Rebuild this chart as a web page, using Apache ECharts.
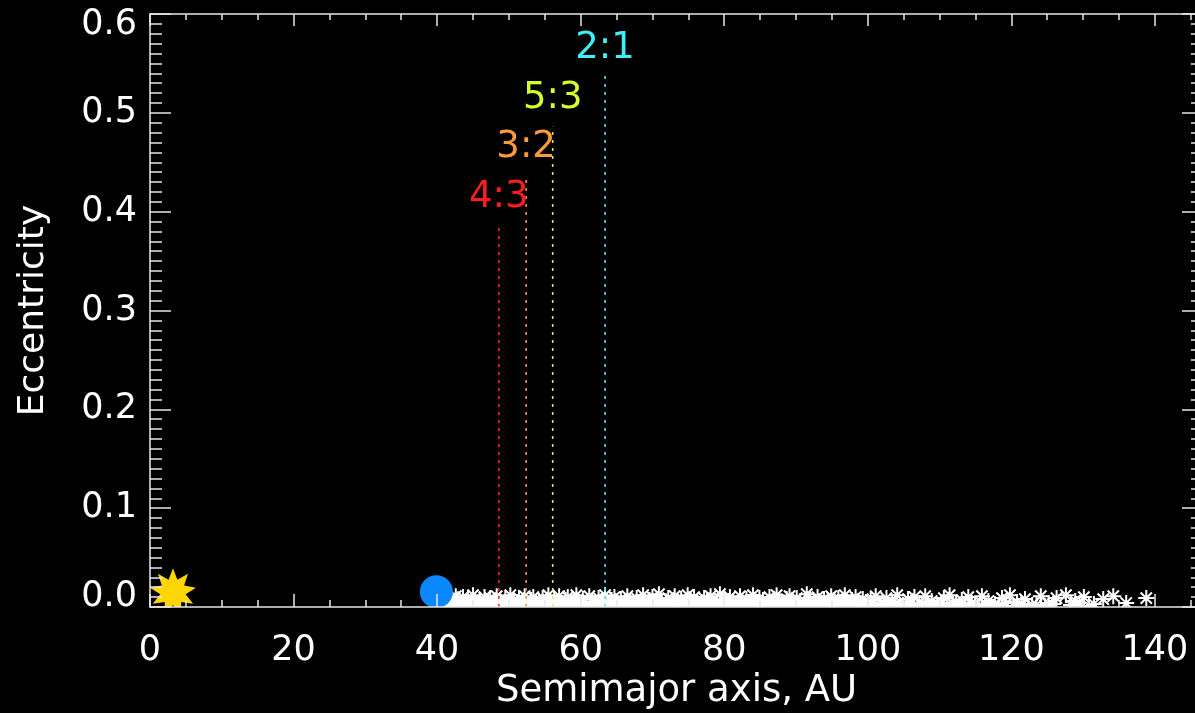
<!DOCTYPE html>
<html>
<head>
<meta charset="utf-8">
<title>Semimajor axis vs eccentricity</title>
<script src="https://cdn.jsdelivr.net/npm/echarts@6/dist/echarts.min.js"></script>
<style>
  html, body { margin: 0; padding: 0; background: #000; }
  #chart { width: 1195px; height: 713px; }
</style>
</head>
<body>
<div id="chart"></div>
<script>
// Axis ranges and tick steps
const xRange = [0, 146.7];
const yRange = [0, 0.6];
const xStep = 20;
const yStep = 0.1;

// Sun and Neptune: [semimajor axis AU, eccentricity]
const sun = [3.2, 0.016];
const neptune = [39.9, 0.0155];

// Mean-motion resonances with Neptune
const resonanceNames = ['4:3', '3:2', '5:3', '2:1'];
const resonanceA = [48.6, 52.4, 56.1, 63.4];
const resonanceTop = [0.387, 0.437, 0.486, 0.538];
const resonanceLabelE = [0.396, 0.446, 0.496, 0.546];
const resonanceColors = ['#ff1c1c', '#ff9a3c', '#d6ff2e', '#3ef0f8'];
const resonanceLineColors = ['#f02828', '#f09440', '#e4e860', '#54e4ec'];

// Belt objects: [semimajor axis AU, eccentricity]
const beltOrbits = [
  [41.5,0.004],[41.9,0.009],[42.2,0.002],[42.6,0.011],[42.9,0.006],[43.3,0.003],[43.6,0.010],[43.9,0.005],
  [44.3,0.008],[44.7,0.001],[45.0,0.012],[45.4,0.004],[45.9,0.007],[46.2,0.002],[46.6,0.010],[47.1,0.006],
  [47.4,0.009],[47.8,0.003],[48.3,0.011],[48.6,0.005],[49.0,0.001],[49.5,0.008],[49.8,0.004],[50.2,0.012],
  [50.7,0.006],[51.0,0.002],[51.4,0.009],[51.9,0.005],[52.2,0.011],[52.6,0.003],[53.1,0.007],[53.4,0.010],
  [53.9,0.001],[54.2,0.006],[54.7,0.009],[55.0,0.004],[55.5,0.012],[55.8,0.002],[56.3,0.008],[56.7,0.005],
  [57.0,0.011],[57.5,0.003],[57.9,0.007],[58.2,0.010],[58.7,0.001],[59.1,0.006],[59.4,0.012],[59.9,0.004],
  [60.3,0.008],[60.8,0.003],[61.2,0.011],[61.6,0.005],[62.1,0.001],[62.5,0.009],[62.9,0.006],[63.4,0.012],
  [63.8,0.002],[64.3,0.007],[64.7,0.010],[65.1,0.004],[65.6,0.008],[66.0,0.001],[66.5,0.011],[66.9,0.006],
  [67.3,0.003],[67.8,0.009],[68.2,0.005],[68.7,0.012],[69.1,0.002],[69.6,0.007],[70.0,0.010],[70.4,0.004],
  [70.9,0.013],[71.3,0.006],[71.8,0.001],[72.2,0.009],[72.7,0.003],[73.1,0.011],[73.6,0.005],[74.0,0.008],
  [74.4,0.002],[74.9,0.012],[75.3,0.006],[75.8,0.010],[76.3,0.004],[76.7,0.001],[77.2,0.009],[77.6,0.007],
  [78.1,0.011],[78.5,0.003],[79.0,0.005],[79.4,0.013],[79.9,0.008],[80.3,0.002],[80.8,0.010],[81.2,0.006],
  [81.7,0.004],[82.2,0.011],[82.6,0.001],[83.1,0.008],[83.5,0.005],[84.0,0.012],[84.5,0.003],[84.9,0.009],
  [85.4,0.007],[85.9,0.002],[86.3,0.010],[86.8,0.004],[87.3,0.012],[87.7,0.006],[88.2,0.001],[88.7,0.008],
  [89.1,0.011],[89.6,0.003],[90.1,0.009],[90.6,0.005],[91.0,0.002],[91.5,0.013],[92.0,0.007],[92.5,0.004],
  [93.0,0.010],[93.4,0.001],[93.9,0.008],[94.4,0.006],[94.9,0.011],[95.4,0.003],[95.9,0.009],[96.3,0.005],
  [96.8,0.012],[97.3,0.002],[97.8,0.007],[98.3,0.010],[98.8,0.004],[99.3,0.008],[99.8,0.001],
  [100.4,0.007],[101.1,0.011],[101.9,0.003],[102.6,0.009],[103.4,0.005],[104.1,0.012],[104.9,0.002],[105.6,0.008],
  [106.5,0.010],[107.2,0.004],[108.0,0.011],[108.9,0.006],[109.7,0.001],[110.6,0.009],[111.4,0.012],[112.3,0.004],
  [113.1,0.007],[114.0,0.010],[114.9,0.002],[115.9,0.011],[116.8,0.006],[117.7,0.003],[118.7,0.009],[119.8,0.012],
  [120.8,0.005],[121.9,0.008],[122.9,0.002],[124.1,0.011],[125.2,0.004],[126.3,0.009],[127.6,0.012],[128.9,0.006],
  [130.1,0.010],[131.5,0.003],[132.8,0.008],[134.2,0.011],[136.0,0.004],[138.8,0.009],
  // low-eccentricity population packed near the inner belt
  [41.7,0.001],[42.4,0.003],[43.1,0.000],[43.8,0.002],[44.5,0.004],[45.2,0.001],[45.7,0.003],[46.4,0.000],
  [47.0,0.002],[47.6,0.004],[48.1,0.001],[48.9,0.003],[49.3,0.000],[50.0,0.002],[50.5,0.004],[51.2,0.001],
  [51.7,0.003],[52.4,0.000],[52.9,0.002],[53.6,0.004],[54.0,0.001],[54.5,0.003],[55.2,0.000],[55.7,0.002],
  [56.1,0.004],[56.9,0.001],[57.3,0.003],[58.0,0.000],[58.5,0.002],[59.2,0.004],[59.7,0.001],[60.1,0.003],
  [60.6,0.000],[61.4,0.002],[61.9,0.004],[62.3,0.001],[62.7,0.003],[63.2,0.000],[64.0,0.002],[64.5,0.004],
  [65.0,0.001],[65.4,0.003],[65.8,0.000],[66.3,0.002],[66.7,0.004],[67.1,0.001],[67.6,0.003],[68.0,0.000],
  [68.5,0.002],[68.9,0.004],[69.4,0.001],[69.9,0.003],[70.2,0.000],[70.7,0.002],[71.1,0.004],[71.6,0.001],
  [72.0,0.003],[72.5,0.000],[72.9,0.002],[73.4,0.004],[73.8,0.001],[74.2,0.003],[74.7,0.000],[75.1,0.002],
  [75.6,0.004],[76.0,0.001],[76.5,0.003],[77.0,0.000],[77.4,0.002],[77.9,0.004],[78.3,0.001],[78.8,0.003],
  [79.2,0.000],[79.7,0.002],[80.1,0.004],[80.6,0.001],[81.0,0.003],[81.5,0.000],[81.9,0.002],[82.4,0.004],
  [82.9,0.001],[83.3,0.003],[83.8,0.000],[84.2,0.002],[84.7,0.004],[85.2,0.001],[85.6,0.003],[86.1,0.000],
  [86.6,0.002],[87.0,0.004],[87.5,0.001],[88.0,0.003],[88.4,0.000],[88.9,0.002],[89.4,0.004],[89.9,0.001],
  [90.3,0.003],[90.8,0.000],[91.3,0.002],[91.8,0.004],[92.2,0.001],[92.7,0.003],[93.2,0.000],[93.7,0.002],
  [94.2,0.004],[94.6,0.001],[95.1,0.003],[95.6,0.000],[96.1,0.002],[96.6,0.004],[97.0,0.001],[97.5,0.003],
  [98.0,0.000],[98.6,0.002],[99.0,0.004],[99.5,0.001],[100.1,0.003],[100.8,0.000],[101.5,0.002],[102.2,0.004],
  [103.0,0.001],[103.8,0.003],[104.5,0.000],[105.3,0.002],[106.0,0.004],[106.9,0.001],[107.6,0.003],[108.4,0.000],
  [109.3,0.002],[110.2,0.004],[111.0,0.001],[111.9,0.003],[112.7,0.000],[113.6,0.002],[114.5,0.004],[115.4,0.001],
  [116.4,0.003],[117.3,0.000],[118.2,0.002],[119.3,0.004],[120.3,0.001],[121.4,0.003],[122.4,0.000],[123.5,0.002],
  [124.7,0.001],[125.8,0.003],[128.3,0.002],[129.5,0.004],[130.8,0.001]
];

const FONT = 'DejaVu Sans';
const AXIS_COLOR = '#e8e8e8';

// Plot frame in pixels
const GRID = { left: 150, top: 14, width: 1053, height: 593 };

// IDL-style asterisk (plus + cross)
const asteriskPath = 'path://M0,-10L0,10M-10,0L10,0M-7.07,-7.07L7.07,7.07M-7.07,7.07L7.07,-7.07';

// Spiky sun glyph
function starPath(points, inner) {
  let d = '';
  for (let i = 0; i < points * 2; i++) {
    const r = i % 2 === 0 ? 10 : 10 * inner;
    const ang = -Math.PI / 2 + i * Math.PI / points;
    d += (i === 0 ? 'M' : 'L') + (r * Math.cos(ang)).toFixed(3) + ',' + (r * Math.sin(ang)).toFixed(3);
  }
  return 'path://' + d + 'Z';
}

function xAxisDef(position, showLabels, tickLen, minorLen) {
  return {
    type: 'value', position: position, min: xRange[0], max: xRange[1], interval: xStep, z: 10,
    axisLine: { show: true, onZero: false, lineStyle: { color: AXIS_COLOR, width: 1.5 } },
    axisTick: { show: true, inside: true, length: tickLen, lineStyle: { color: AXIS_COLOR, width: 1.5 } },
    minorTick: { show: true, splitNumber: 4, length: minorLen, lineStyle: { color: AXIS_COLOR, width: 1.5 } },
    splitLine: { show: false },
    axisLabel: {
      show: showLabels, color: '#fff', fontFamily: FONT, fontSize: 35, margin: 26,
      formatter: v => (Math.abs(v % xStep) < 1e-9 ? String(v) : '')
    },
    name: showLabels ? 'Semimajor axis, AU' : '',
    nameLocation: 'middle', nameGap: 66,
    nameTextStyle: { color: '#fff', fontFamily: FONT, fontSize: 37 }
  };
}

function yAxisDef(position, showLabels) {
  return {
    type: 'value', position: position, min: yRange[0], max: yRange[1], interval: yStep, z: 10,
    axisLine: { show: true, onZero: false, lineStyle: { color: AXIS_COLOR, width: 1.5 } },
    axisTick: { show: true, inside: true, length: 21, lineStyle: { color: AXIS_COLOR, width: 1.5 } },
    minorTick: { show: true, splitNumber: 10, length: 12, lineStyle: { color: AXIS_COLOR, width: 1.5 } },
    splitLine: { show: false },
    axisLabel: {
      show: showLabels, color: '#fff', fontFamily: FONT, fontSize: 35, margin: 13,
      formatter: v => {
        const s = v.toFixed(1);
        if (Math.abs(v - yRange[0]) < 1e-9) return '{lo|' + s + '}';
        if (Math.abs(v - yRange[1]) < 1e-9) return '{hi|' + s + '}';
        return s;
      },
      rich: {
        lo: { color: '#fff', fontFamily: FONT, fontSize: 35, padding: [0, 0, 20, 0] },
        hi: { color: '#fff', fontFamily: FONT, fontSize: 35, padding: [22, 0, 0, 0] }
      }
    },
    name: showLabels ? 'Eccentricity' : '',
    nameLocation: 'middle', nameGap: 98,
    nameTextStyle: { color: '#fff', fontFamily: FONT, fontSize: 36 }
  };
}

const series = [];

// Resonance markers: dotted vertical lines from the axis up to their labels
resonanceNames.forEach((name, i) => {
  series.push({
    type: 'line', name: name, xAxisIndex: 0, yAxisIndex: 0,
    data: [[resonanceA[i], yRange[0]], [resonanceA[i], resonanceTop[i]]],
    showSymbol: false, silent: true,
    lineStyle: { color: resonanceLineColors[i], width: 1.6, type: [3, 5] },
    z: 3
  });
});

series.push({
  type: 'scatter', name: 'resonance labels', xAxisIndex: 0, yAxisIndex: 0,
  symbolSize: 0, silent: true,
  itemStyle: { opacity: 1 },
  data: resonanceNames.map((name, i) => ({
    value: [resonanceA[i], resonanceLabelE[i]],
    label: {
      show: true, position: 'top', distance: 0, formatter: name,
      color: resonanceColors[i], fontFamily: FONT, fontSize: 37
    }
  })),
  z: 4
});

// Belt objects
series.push({
  type: 'scatter', name: 'belt', xAxisIndex: 0, yAxisIndex: 0,
  symbol: asteriskPath, symbolSize: 16, clip: true, silent: true,
  itemStyle: { color: 'rgba(0,0,0,0)', borderColor: '#ffffff', borderWidth: 2, opacity: 1 },
  data: beltOrbits,
  z: 2
});

// Neptune
series.push({
  type: 'scatter', name: 'Neptune', xAxisIndex: 0, yAxisIndex: 0,
  symbol: 'circle', symbolSize: 33, clip: true, silent: true,
  itemStyle: { color: '#0a88ff', opacity: 1 },
  data: [neptune],
  z: 5
});

// Sun
series.push({
  type: 'scatter', name: 'Sun', xAxisIndex: 0, yAxisIndex: 0,
  symbol: starPath(9, 0.55), symbolSize: 46, clip: true, silent: true,
  itemStyle: { color: '#ffd500', opacity: 1 },
  data: [sun],
  z: 5
});

const chart = echarts.init(document.getElementById('chart'), null, { renderer: 'canvas' });
chart.setOption({
  backgroundColor: '#000',
  animation: false,
  grid: Object.assign({ containLabel: false, outerBoundsMode: 'none' }, GRID),
  xAxis: [xAxisDef('bottom', true, 13, 7), xAxisDef('top', false, 12, 6)],
  yAxis: [yAxisDef('left', true), yAxisDef('right', false)],
  // Black masks outside the frame so markers are cut at the plot edges
  graphic: [
    { type: 'rect', z: 8, silent: true,
      shape: { x: 0, y: GRID.top + GRID.height, width: 1195, height: 713 - GRID.top - GRID.height },
      style: { fill: '#000' } },
    { type: 'rect', z: 8, silent: true,
      shape: { x: 0, y: 0, width: GRID.left, height: GRID.top + GRID.height },
      style: { fill: '#000' } }
  ],
  series: series
});
</script>
</body>
</html>
